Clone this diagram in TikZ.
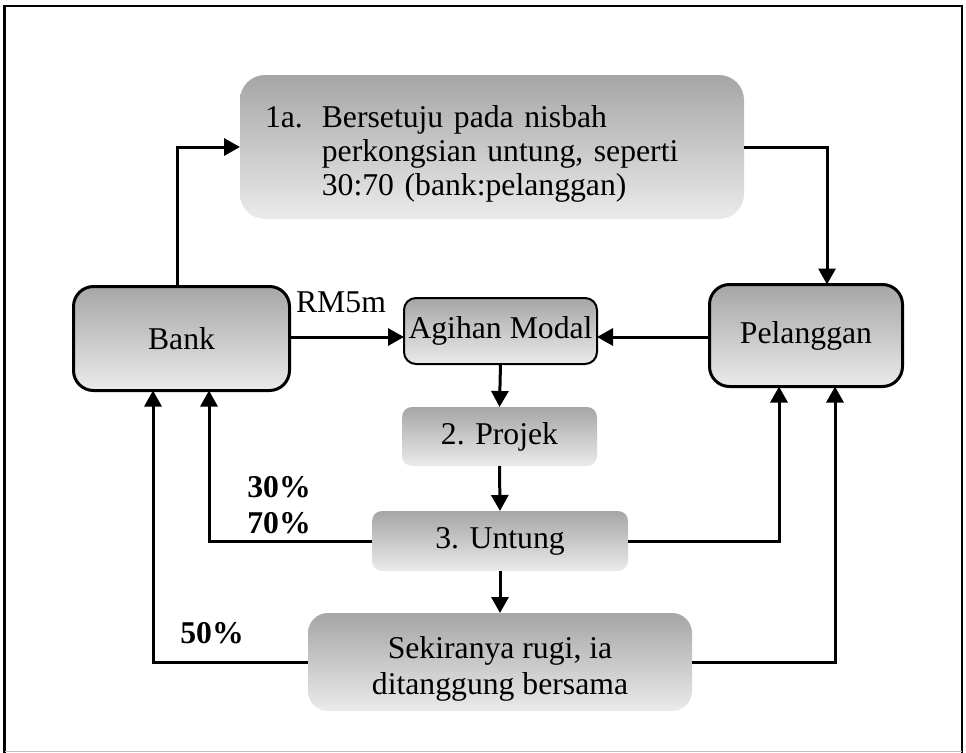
\documentclass[tikz,border=0pt]{standalone}
\usepackage{fontspec}
\setmainfont{Liberation Serif}
\usetikzlibrary{arrows.meta}

\tikzset{
	gbox/.style={top color=black!35, bottom color=black!8, inner sep=0pt, outer sep=0pt, font=\fontsize{31.7}{34}\selectfont},
	edgebox/.style={gbox, draw=black, line width=3pt},
	arr/.style={line width=3pt, -{Triangle[length=16pt,width=17pt]}},
	txt/.style={inner sep=0pt, font=\fontsize{31.7}{34}\selectfont},
	pct/.style={inner sep=0pt, font=\fontsize{31.7}{34}\selectfont\bfseries}
}

\begin{document}
\begin{tikzpicture}[x=1pt, y=-1pt]
	\useasboundingbox (0,0) rectangle (966,752);
	\draw[line width=2.5pt] (4.5,753) -- (4.5,6) -- (962,6) -- (962,753);
	\draw[black!25, line width=1.5pt] (4.5,751.5) -- (962,751.5);

	\node[gbox, rounded corners=25pt, minimum width=504pt, minimum height=144pt, text width=454pt, align=left] (rule) at (492,147) {\begin{tabular}{@{}l@{\hspace{19pt}}l@{}}\rule{0pt}{40pt}1a. & Bersetuju pada nisbah\\ & perkongsian untung, seperti\\ & 30:70 (bank:pelanggan)\end{tabular}};
	\node[edgebox, rounded corners=20pt, minimum width=216pt, minimum height=104pt] (bank) at (181.5,338.5) {Bank};
	\node[edgebox, rounded corners=20pt, minimum width=193pt, minimum height=102pt] (pelanggan) at (806,335.5) {Pelanggan};
	\node[gbox, draw=black, line width=2pt, rounded corners=12pt, minimum width=193pt, minimum height=66pt] (modal) at (500.5,331) {Agihan Modal};
	\node[gbox, rounded corners=10pt, minimum width=195pt, minimum height=59pt] (projek) at (499.5,436.5) {2. Projek};
	\node[gbox, rounded corners=10pt, minimum width=256pt, minimum height=60pt] (untung) at (500,541) {3. Untung};
	\node[gbox, rounded corners=20pt, minimum width=384pt, minimum height=98pt, align=center] (rugi) at (500,662) {\rule{0pt}{36pt}Sekiranya rugi, ia\\[2pt]ditanggung bersama};

	\node[txt] (rm) at (341,302) {RM5m};
	\node[pct] (p30) at (279,487) {30\%};
	\node[pct] (p70) at (279,523) {70\%};
	\node[pct] (p50) at (212,633) {50\%};

	\draw[arr] ([xshift=-4.5pt]bank.north) |- (rule.west);
	\draw[arr] (rule.east) -| ([xshift=21pt]pelanggan.north);
	\draw[arr] (bank.east |- 0,337) -- (modal.west |- 0,337);
	\draw[arr] (pelanggan.west |- 0,337) -- (modal.east |- 0,337);
	\draw[arr] (modal.south) -- (projek.north);
	\draw[arr] (projek.south) -- (untung.north);
	\draw[arr] (untung.south) -- (rugi.north);
	\draw[arr] (untung.west) -| ([xshift=27.5pt]bank.south);
	\draw[arr] (untung.east) -| ([xshift=-27pt]pelanggan.south);
	\draw[arr] (rugi.west) -| ([xshift=-28.5pt]bank.south);
	\draw[arr] (rugi.east) -| ([xshift=29pt]pelanggan.south);
\end{tikzpicture}
\end{document}
